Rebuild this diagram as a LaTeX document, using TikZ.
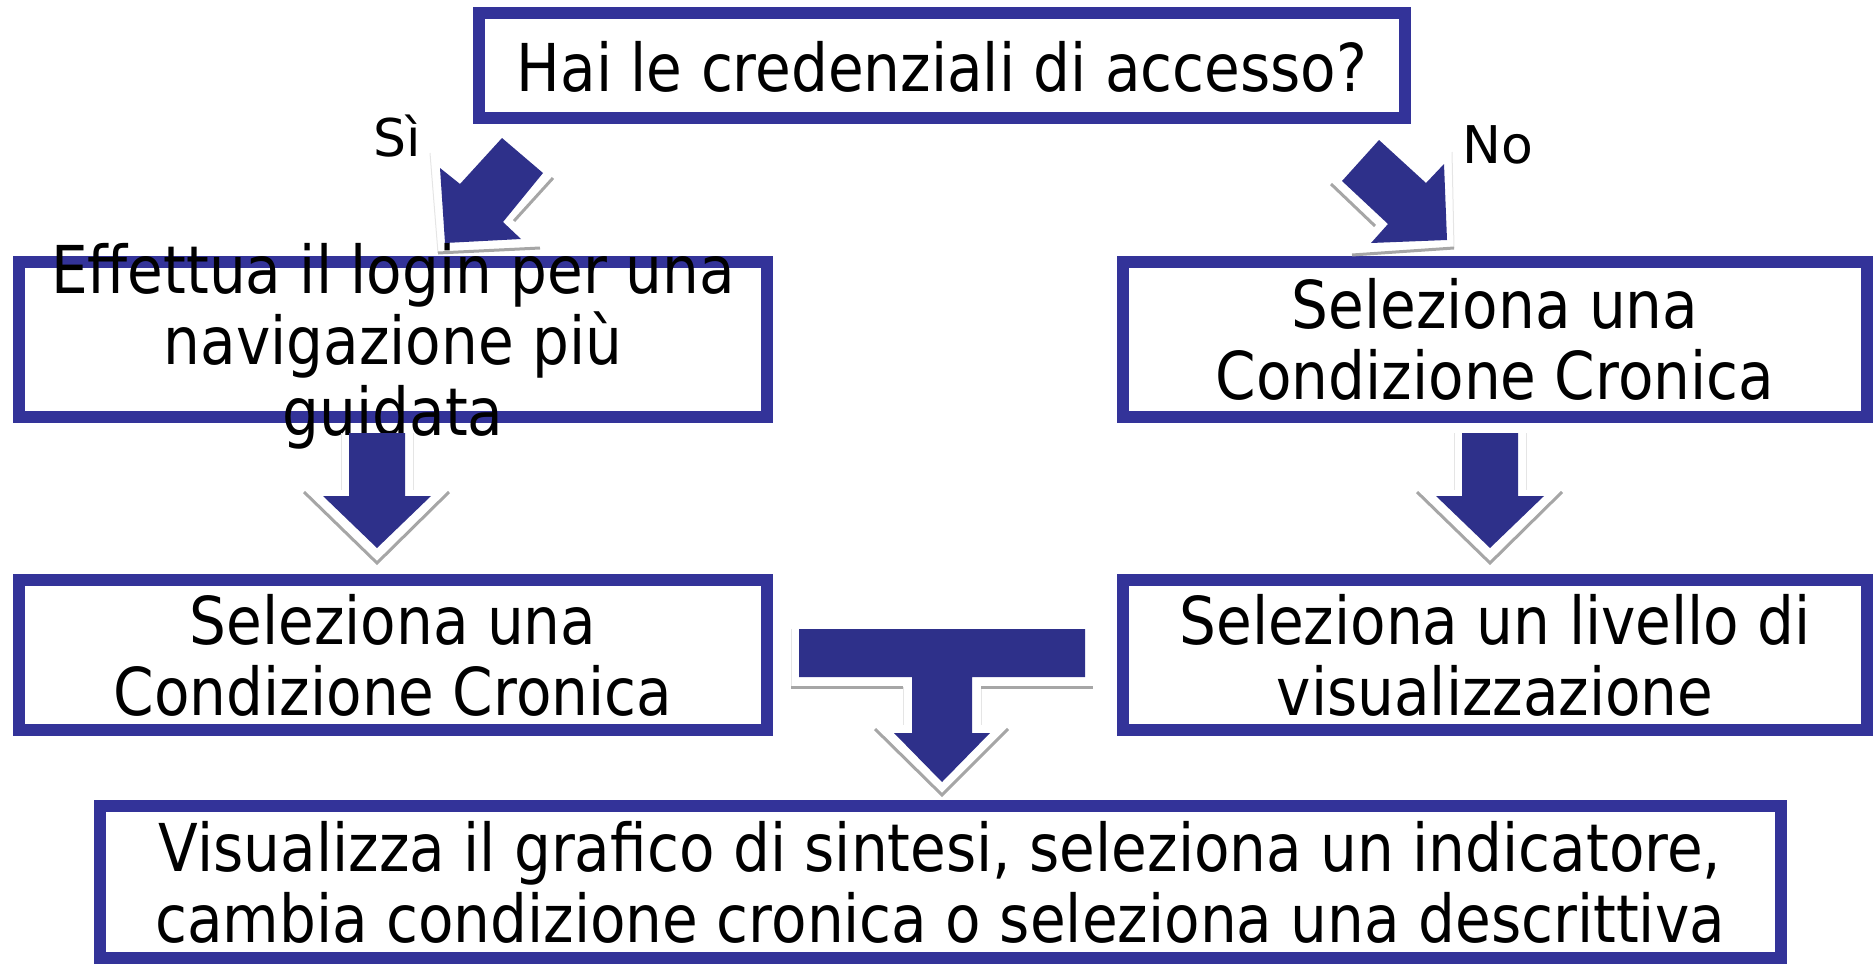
\documentclass[tikz,border=0pt]{standalone}
\usepackage{fontspec}
\setmainfont{DejaVu Sans}[FakeStretch=0.88]
\newfontfamily\lblfont{DejaVu Sans}
\definecolor{boxblue}{RGB}{51,51,153}
\definecolor{arrowblue}{RGB}{46,48,138}
\begin{document}
\begin{tikzpicture}[x=1pt,y=-1pt,
  box/.style={draw=boxblue,line width=12pt,fill=white,inner sep=0pt},
  txt/.style={inner sep=0pt,align=center,font=\fontsize{66}{71}\selectfont},
  lbl/.style={inner sep=0pt,anchor=base,font=\lblfont\fontsize{52}{60}\selectfont},
  barrow/.style={fill=arrowblue,draw=none},
  shade/.style={draw=gray!70,line width=3pt},
  faint/.style={draw=gray!20,line width=1pt}]
\useasboundingbox (0,0) rectangle (1876,966);
% boxes
\node[box,minimum width=926pt,minimum height=105pt] (q) at (942,65.5) {};
\node[box,minimum width=748pt,minimum height=155pt] (l1) at (393,339.5) {};
\node[box,minimum width=744pt,minimum height=155pt] (r1) at (1495,339.5) {};
\node[box,minimum width=748pt,minimum height=150pt] (l2) at (393,655) {};
\node[box,minimum width=744pt,minimum height=150pt] (r2) at (1495,655) {};
\node[box,minimum width=1681pt,minimum height=152pt] (fin) at (940,882) {};
% texts
\node[txt,anchor=base] (tq) at (942,92) {Hai le credenziali di accesso?};
\node[txt] (tl1) at (393,346) {Effettua il login per una\\navigazione più\\guidata};
\node[txt] (tr1) at (1495,339.5) {Seleziona una\\Condizione Cronica};
\node[txt] (tl2) at (393,655) {Seleziona una\\Condizione Cronica};
\node[txt] (tr2) at (1495,655) {Seleziona un livello di\\visualizzazione};
\node[txt] (tfin) at (940,882) {Visualizza il grafico di sintesi, seleziona un indicatore,\\cambia condizione cronica o seleziona una descrittiva};
\node[lbl] (si) at (397,156) {Sì};
\node[lbl] (no) at (1498,163) {No};
% left diagonal arrow
\draw[faint] (430,153) -- (438,253);
\draw[shade] (438,253) -- (540,248);
\draw[shade] (553,178) -- (514,221);
\fill[barrow] (502,138) -- (543,173) -- (503,222) -- (521,239) -- (445,243) -- (440,168) -- (460,184) -- cycle;
% right diagonal arrow
\draw[faint] (1452,152) -- (1454,248);
\draw[shade] (1331,184) -- (1375,226);
\draw[shade] (1352,255) -- (1454,248);
\fill[barrow] (1379,140) -- (1342,181) -- (1388,224) -- (1371,243) -- (1447,240) -- (1444,164) -- (1426,183) -- cycle;
% left down arrow
\draw[faint] (341,433) -- (341,490);
\draw[faint] (413,433) -- (413,490);
\draw[shade] (304,492) -- (377,563) -- (449,492);
\fill[barrow] (349,433) -- (405,433) -- (405,496) -- (431,496) -- (377,548) -- (323,496) -- (349,496) -- cycle;
% right down arrow
\draw[faint] (1454,433) -- (1454,490);
\draw[faint] (1526,433) -- (1526,490);
\draw[shade] (1417,492) -- (1490,563) -- (1562,492);
\fill[barrow] (1462,433) -- (1518,433) -- (1518,496) -- (1544,496) -- (1490,548) -- (1436,496) -- (1462,496) -- cycle;
% T arrow
\draw[faint] (791,629) -- (791,687);
\draw[faint] (903,687) -- (903,725);
\draw[faint] (981,687) -- (981,725);
\draw[shade] (791,687) -- (903,687);
\draw[shade] (981,687) -- (1093,687);
\draw[shade] (875,729) -- (942,795) -- (1008,729);
\fill[barrow] (799,629) -- (1085,629) -- (1085,677) -- (972,677) -- (972,733) -- (990,733) -- (942,782) -- (894,733) -- (912,733) -- (912,677) -- (799,677) -- cycle;
\end{tikzpicture}
\end{document}
